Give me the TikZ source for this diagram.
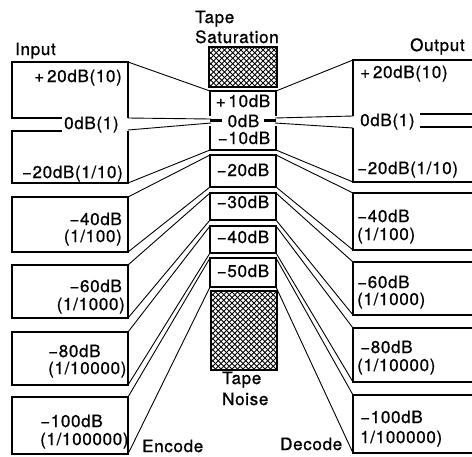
\documentclass[tikz,border=0pt]{standalone}
\usepackage{fontspec}
\setmainfont{TeX Gyre Heros}[LetterSpace=4,FakeBold=0.9]
\begin{document}
\begin{tikzpicture}[x=1pt,y=-1pt,
  boxline/.style={line width=2.2pt,line join=miter},
  cboxline/.style={line width=2pt,line join=miter},
  stub/.style={line width=3.5pt},
  conn/.style={line width=0.9pt},
  hatchline/.style={line width=1.0pt},
  lbl/.style={font=\fontsize{17}{19}\selectfont,inner sep=0pt},
  ttl/.style={font=\fontsize{17}{19}\selectfont,inner sep=0pt}]
\useasboundingbox (0,0) rectangle (472,456);
\clip (0,0) rectangle (472,456);
% ---- coordinates: left boxes
\coordinate (L1a) at (128,62);  \coordinate (L1b) at (128,118);
\coordinate (L2a) at (128,130); \coordinate (L2b) at (128,183);
\coordinate (L3a) at (128,197); \coordinate (L3b) at (128,252);
\coordinate (L4a) at (128,265); \coordinate (L4b) at (128,318);
\coordinate (L5a) at (128,332); \coordinate (L5b) at (128,385);
\coordinate (L6a) at (128,397); \coordinate (L6b) at (128,454);
% ---- centre, left side
\coordinate (CL1a) at (210,91);  \coordinate (CL0u) at (211,119);
\coordinate (CL0d) at (211,123); \coordinate (CL1b) at (210,150);
\coordinate (CL2a) at (210,155); \coordinate (CL2b) at (210,187);
\coordinate (CL3a) at (210,193); \coordinate (CL3b) at (210,220);
\coordinate (CL4a) at (210,226); \coordinate (CL4b) at (210,253);
\coordinate (CL5a) at (210,258); \coordinate (CL5b) at (210,287);
% ---- centre, right side
\coordinate (CR1a) at (276,91);  \coordinate (CR0u) at (275,118);
\coordinate (CR0d) at (275,123); \coordinate (CR1b) at (276,150);
\coordinate (CR2a) at (276,155); \coordinate (CR2b) at (276,187);
\coordinate (CR3a) at (276,193); \coordinate (CR3b) at (276,220);
\coordinate (CR4a) at (276,226); \coordinate (CR4b) at (276,253);
\coordinate (CR5a) at (276,258); \coordinate (CR5b) at (276,287);
% ---- right boxes
\coordinate (R1a) at (353,60);  \coordinate (R1b) at (353,116);
\coordinate (R2a) at (353,128); \coordinate (R2b) at (353,182);
\coordinate (R3a) at (353,193); \coordinate (R3b) at (353,250);
\coordinate (R4a) at (353,262); \coordinate (R4b) at (353,315);
\coordinate (R5a) at (353,328); \coordinate (R5b) at (353,382);
\coordinate (R6a) at (353,395); \coordinate (R6b) at (353,453);

% ---- left boxes
\draw[boxline] (62,118) -- (12,118) -- (12,62) -- (L1a) -- (L1b);
\draw[boxline] (62,131) -- (12,131) -- (12,183) -- (L2b) -- (128,131);
\draw[boxline] (12,197) rectangle (L3b);
\draw[boxline] (12,265) rectangle (L4b);
\draw[boxline] (12,332) rectangle (L5b);
\draw[boxline] (12,397) rectangle (L6b);

% ---- right boxes (open to the right)
\draw[boxline] (480,60) -- (R1a) -- (R1b);
\draw[boxline] (420,114) -- (480,114);
\draw[boxline] (420,127) -- (480,127);
\draw[boxline] (R2a) -- (R2b) -- (480,182);
\draw[boxline] (480,193) -- (R3a) -- (R3b) -- (480,250);
\draw[boxline] (480,262) -- (R4a) -- (R4b) -- (480,315);
\draw[boxline] (480,328) -- (R5a) -- (R5b) -- (480,382);
\draw[boxline] (480,395) -- (R6a) -- (R6b) -- (480,453);

% ---- centre boxes
\draw[cboxline] (210,116) -- (CL1a) -- (CR1a) -- (276,116);
\draw[cboxline] (210,126) -- (CL1b) -- (CR1b) -- (276,126);
\draw[stub] (210,120.5) -- (222,120.5);
\draw[stub] (264,120.5) -- (276,120.5);
\draw[cboxline] (CL2a) rectangle (CR2b);
\draw[cboxline] (CL3a) rectangle (CR3b);
\draw[cboxline] (CL4a) rectangle (CR4b);
\draw[cboxline] (CL5a) rectangle (CR5b);

% ---- hatched boxes
\begin{scope}
  \clip (209,47) rectangle (277,87);
  \foreach \k in {150,155.5,...,295} {\draw[hatchline] (\k,47) -- ++(55,55);}
  \foreach \k in {200,205.5,...,345} {\draw[hatchline] (\k,47) -- ++(-55,55);}
\end{scope}
\draw[cboxline] (209,47) rectangle (277,87);
\begin{scope}
  \clip (211,291) rectangle (277,370);
  \foreach \k in {110,115.5,...,290} {\draw[hatchline] (\k,291) -- ++(95,95);}
  \foreach \k in {200,205.5,...,380} {\draw[hatchline] (\k,291) -- ++(-95,95);}
\end{scope}
\draw[cboxline] (211,291) rectangle (277,370);

% ---- encode connectors
\draw[conn] (L1a) -- (CL1a);
\draw[conn] (L1b) -- (CL0u);
\draw[conn] (L2a) -- (CL0d);
\draw[conn] (L2b) -- (CL1b);
\draw[conn] (L3a) -- (CL2a);
\draw[conn] (L3b) -- (CL2b);
\draw[conn] (L4a) -- (CL3a);
\draw[conn] (L4b) -- (CL3b);
\draw[conn] (L5a) -- (CL4a);
\draw[conn] (L5b) -- (CL4b);
\draw[conn] (L6a) -- (CL5a);
\draw[conn] (L6b) -- (CL5b);
% ---- decode connectors
\draw[conn] (CR1a) -- (R1a);
\draw[conn] (CR0u) -- (R1b);
\draw[conn] (CR0d) -- (R2a);
\draw[conn] (CR1b) -- (R2b);
\draw[conn] (CR2a) -- (R3a);
\draw[conn] (CR2b) -- (R3b);
\draw[conn] (CR3a) -- (R4a);
\draw[conn] (CR3b) -- (R4b);
\draw[conn] (CR4a) -- (R5a);
\draw[conn] (CR4b) -- (R5b);
\draw[conn] (CR5a) -- (R6a);
\draw[conn] (CR5b) -- (R6b);

% ---- titles
\node[ttl,anchor=base west] (tin) at (15,55) {Input};
\node[ttl,anchor=base west] (tout) at (410,51) {Output};
\node[ttl,anchor=base west] (tsat1) at (195,23) {Tape};
\node[ttl,anchor=base west] (tsat2) at (195,43) {Saturation};
\node[ttl,anchor=base west] (tno1) at (222,384) {Tape};
\node[ttl,anchor=base west] (tno2) at (222,405) {Noise};
\node[ttl,anchor=base west] (tenc) at (142,452) {Encode};
\node[ttl,anchor=base west] (tdec) at (280,450) {Decode};

% ---- left labels
\node[lbl,anchor=base east] (la1) at (122,82) {+\,20dB(10)};
\node[lbl,anchor=base west] (la0) at (64,129) {0dB(1)};
\node[lbl,anchor=base east] (la2) at (123,178) {−20dB(1/10)};
\node[lbl,anchor=base east] (la3) at (122,225) {−40dB};
\node[lbl,anchor=base east] (la3b) at (122,242) {(1/100)};
\node[lbl,anchor=base east] (la4) at (122,292) {−60dB};
\node[lbl,anchor=base east] (la4b) at (125,310) {(1/1000)};
\node[lbl,anchor=base west] (la5) at (48,357) {−80dB};
\node[lbl,anchor=base west] (la5b) at (48,374) {(1/10000)};
\node[lbl,anchor=base west] (la6) at (40,427) {−100dB};
\node[lbl,anchor=base west] (la6b) at (40,445) {(1/100000)};

% ---- centre labels
\node[lbl,anchor=base] (c1) at (243,107) {+\,10dB};
\node[lbl,anchor=base] (c0) at (243.5,127) {0dB};
\node[lbl,anchor=base] (c2) at (244,144) {−10dB};
\node[lbl,anchor=base] (c3) at (243,176) {−20dB};
\node[lbl,anchor=base] (c4) at (243,208) {−30dB};
\node[lbl,anchor=base] (c5) at (243,243) {−40dB};
\node[lbl,anchor=base] (c6) at (243,277) {−50dB};

% ---- right labels
\node[lbl,anchor=base west] (ra1) at (360,78) {+\,20dB(10)};
\node[lbl,anchor=base west] (ra0) at (360,126) {0dB(1)};
\node[lbl,anchor=base west] (ra2) at (357,174) {−20dB(1/10)};
\node[lbl,anchor=base west] (ra3) at (357,222) {−40dB};
\node[lbl,anchor=base west] (ra3b) at (357,240) {(1/100)};
\node[lbl,anchor=base west] (ra4) at (357,288) {−60dB};
\node[lbl,anchor=base west] (ra4b) at (357,305) {(1/1000)};
\node[lbl,anchor=base west] (ra5) at (360,353) {−80dB};
\node[lbl,anchor=base west] (ra5b) at (357,371) {(1/10000)};
\node[lbl,anchor=base west] (ra6) at (360,423) {−100dB};
\node[lbl,anchor=base west] (ra6b) at (360,443) {1/100000)};
\end{tikzpicture}
\end{document}
